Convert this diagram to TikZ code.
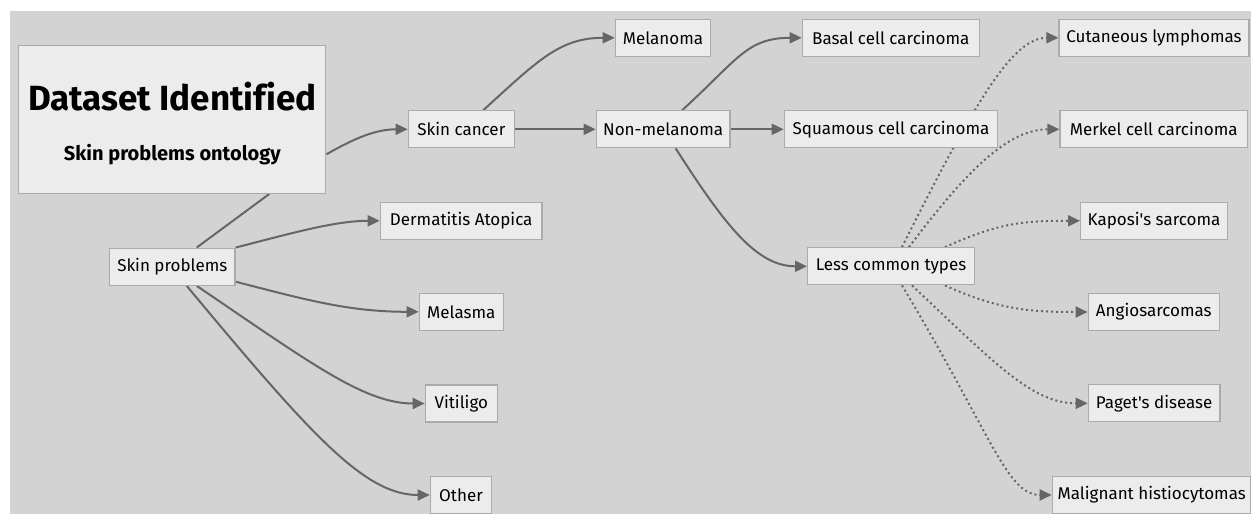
\documentclass[tikz,border=0pt]{standalone}
\usepackage{fontspec}
\setmainfont[Ligatures=NoCommon]{Fira Sans}
\usetikzlibrary{arrows.meta,calc}
\definecolor{canvas}{HTML}{D3D3D3}
\definecolor{boxfill}{HTML}{ECECEC}
\definecolor{boxline}{HTML}{ABABAB}
\definecolor{wire}{HTML}{666666}
\pgfdeclarelayer{canvaslayer}
\pgfdeclarelayer{wirelayer}
\pgfsetlayers{canvaslayer,wirelayer,main}
\tikzset{
  box/.style={draw=boxline, fill=boxfill, line width=1.3pt, inner sep=0pt,
    minimum height=37pt, font=\fontsize{17}{19}\selectfont, text=black},
  edge/.style={draw=wire, line width=2pt, -{Triangle[length=12pt,width=11pt]}},
  link/.style={draw=wire, line width=2pt},
  dotedge/.style={edge, dash pattern=on 2pt off 3pt},
}
\begin{document}
\begin{tikzpicture}[x=1pt,y=-1pt]
\useasboundingbox (0,0) rectangle (1251,514);
\begin{pgfonlayer}{canvaslayer}
\fill[canvas] (10,11) rectangle (1251,514);
\end{pgfonlayer}

% nodes
\node[box, minimum width=307pt, minimum height=148pt] (title) at (172.3,119.3) {};
\node[font=\fontsize{35}{38}\bfseries\selectfont] (titleA) at (172.3,97) {Dataset Identified};
\node[font=\fontsize{20}{22}\bfseries\selectfont] (titleB) at (172.3,155) {Skin problems ontology};

\node[box, minimum width=125.3pt] (skinp) at (172.3,266.7) {Skin problems};
\node[box, minimum width=106pt] (skinc) at (461.3,129.3) {Skin cancer};
\node[box, minimum width=161.7pt] (derm) at (461.2,220.8) {Dermatitis Atopica};
\node[box, minimum width=84pt] (melasma) at (461.3,311.8) {Melasma};
\node[box, minimum width=72pt] (vitiligo) at (461.3,403.5) {Vitiligo};
\node[box, minimum width=61.3pt] (other) at (461,495) {Other};
\node[box, minimum width=95.3pt] (melanoma) at (663,37.8) {Melanoma};
\node[box, minimum width=133.7pt] (nonmel) at (663.2,129.3) {Non-melanoma};
\node[box, minimum width=177pt] (basal) at (890.8,37.8) {Basal cell carcinoma};
\node[box, minimum width=213.3pt] (squam) at (891,129.3) {Squamous cell carcinoma};
\node[box, minimum width=166.7pt] (lesscommon) at (891,266.3) {Less common types};
\node[box, minimum width=190pt] (cutan) at (1154,37.8) {Cutaneous lymphomas};
\node[box, minimum width=187.3pt] (merkel) at (1153.7,129.3) {Merkel cell carcinoma};
\node[box, minimum width=146.7pt] (kaposi) at (1154,220.8) {Kaposi\textquotesingle s sarcoma};
\node[box, minimum width=131pt] (angio) at (1153.8,312) {Angiosarcomas};
\node[box, minimum width=131.7pt] (paget) at (1154.2,403.3) {Paget\textquotesingle s disease};
\node[box, minimum width=198.7pt] (malig) at (1151.7,495) {Malignant histiocytomas};

% connectors, kept beneath the boxes
\begin{pgfonlayer}{wirelayer}
\draw[link] ($(skinp.north)+(24.4,0)$) -- ($(title.south)+(97,0)$);
\draw[edge] ($(title.east)+(0,35)$) .. controls +(28,-16) and +(-32,0) .. (skinc.west);
\draw[edge] (skinp.north east) .. controls +(55,-14) and +(-45,0) .. (derm.west);
\draw[edge] ($(skinp.east)+(0,15)$) .. controls +(70,18) and +(-70,0) .. (melasma.west);
\draw[edge] ($(skinp.south)+(24.4,0)$) .. controls +(115,78) and +(-60,0) .. (vitiligo.west);
\draw[edge] ($(skinp.south)+(14.4,0)$) .. controls +(125,150) and +(-65,0) .. (other.west);

\draw[edge] ($(skinc.north)+(22,0)$) .. controls +(55,-50) and +(-55,0) .. (melanoma.west);
\draw[edge] (skinc.east) -- (nonmel.west);
\draw[edge] ($(nonmel.north)+(19,0)$) .. controls +(55,-50) and +(-55,0) .. (basal.west);
\draw[edge] (nonmel.east) -- (squam.west);
\draw[edge] ($(nonmel.south)+(12.5,0)$) .. controls +(50,78) and +(-50,0) .. (lesscommon.west);

\draw[dotedge] ($(lesscommon.north)+(11,0)$) .. controls +(75,-150) and +(-45,0) .. (cutan.west);
\draw[dotedge] ($(lesscommon.north)+(18,0)$) .. controls +(60,-80) and +(-50,0) .. (merkel.west);
\draw[dotedge] ($(lesscommon.north)+(54,0)$) .. controls +(55,-25) and +(-55,0) .. (kaposi.west);
\draw[dotedge] ($(lesscommon.south)+(54,0)$) .. controls +(55,25) and +(-55,0) .. (angio.west);
\draw[dotedge] ($(lesscommon.south)+(21,0)$) .. controls +(85,80) and +(-55,0) .. (paget.west);
\draw[dotedge] ($(lesscommon.south)+(11,0)$) .. controls +(90,150) and +(-45,0) .. (malig.west);
\end{pgfonlayer}
\end{tikzpicture}
\end{document}
